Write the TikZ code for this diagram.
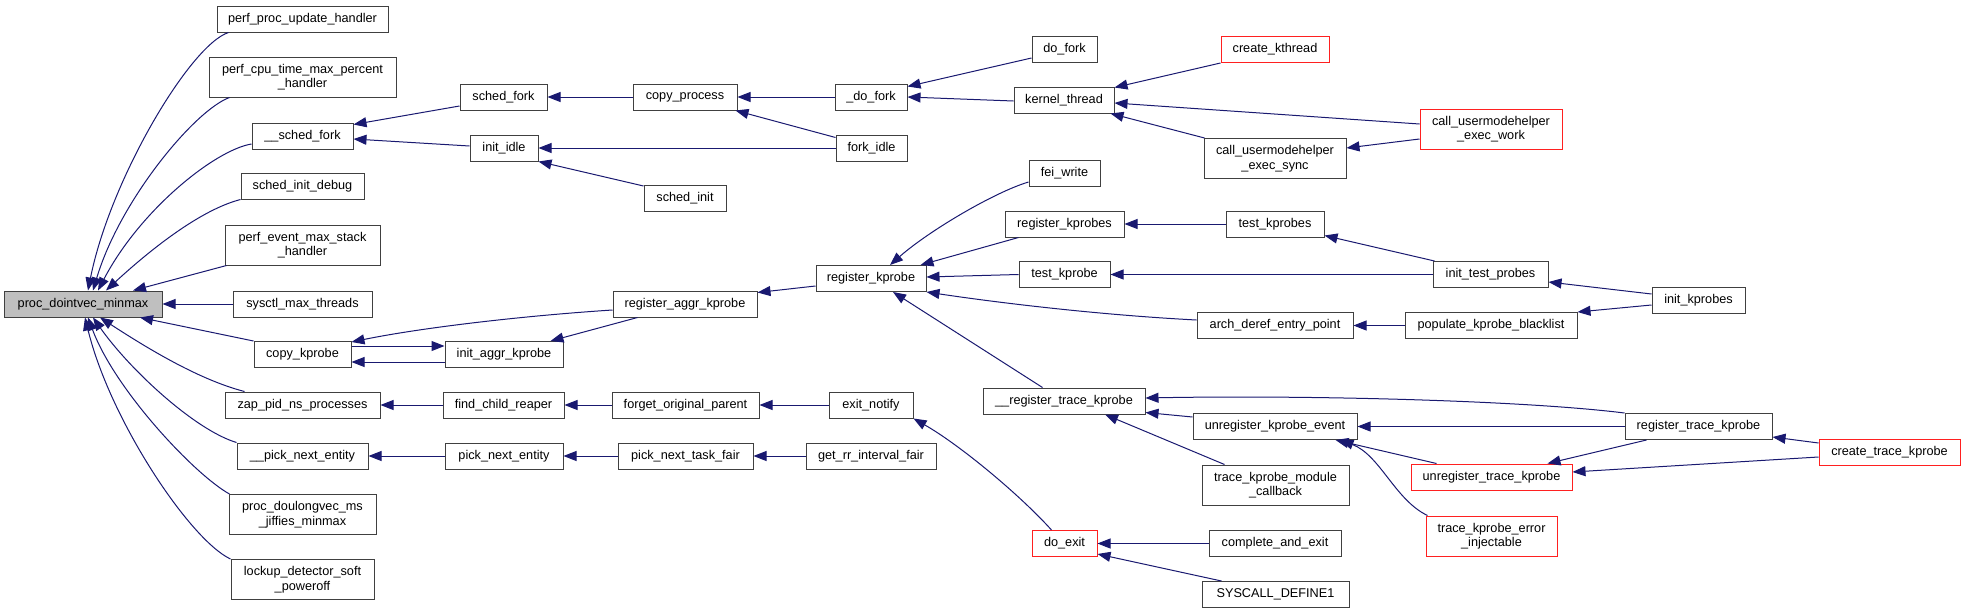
\documentclass[tikz,border=0pt]{standalone}
\usepackage{fontspec}
\setmainfont{Liberation Sans}
\usetikzlibrary{arrows.meta}
\definecolor{edgec}{HTML}{191970}
\definecolor{boxc}{HTML}{404040}
\definecolor{rootc}{HTML}{BFBFBF}
\definecolor{redc}{HTML}{FF2020}
\begin{document}
\begin{tikzpicture}[x=1pt,y=-1pt,
  fn/.style={draw=boxc, line width=1pt, rectangle, inner sep=0pt, font=\fontsize{12.7}{14.5}\selectfont, align=center, minimum height=26pt},
  dbl/.style={minimum height=40pt},
  rd/.style={fn, draw=redc},
  e/.style={draw=edgec, line width=1pt, -{Triangle[length=13pt,width=10pt]}}]
\useasboundingbox (0,0) rectangle (1965,613);
% column 0
\node[fn, fill=rootc, minimum width=158pt] (proc) at (83,304) {proc\_dointvec\_minmax};
% column 1
\node[fn, minimum width=171pt] (pupd) at (302.5,19) {perf\_proc\_update\_handler};
\node[fn, dbl, minimum width=187pt] (pcpu) at (302.5,77) {perf\_cpu\_time\_max\_percent\\\_handler};
\node[fn, minimum width=101pt] (sfork_) at (302.5,136) {\_\_sched\_fork};
\node[fn, minimum width=123pt] (sid) at (302.5,186) {sched\_init\_debug};
\node[fn, dbl, minimum width=155pt] (pevt) at (302.5,245) {perf\_event\_max\_stack\\\_handler};
\node[fn, minimum width=139pt] (smt) at (302.5,304) {sysctl\_max\_threads};
\node[fn, minimum width=97pt] (ckp) at (302.5,354.5) {copy\_kprobe};
\node[fn, minimum width=155pt] (zap) at (302.5,405) {zap\_pid\_ns\_processes};
\node[fn, minimum width=131pt] (pne_) at (302.5,456) {\_\_pick\_next\_entity};
\node[fn, dbl, minimum width=147pt] (pdl) at (302.5,514.5) {proc\_doulongvec\_ms\\\_jiffies\_minmax};
\node[fn, dbl, minimum width=143pt] (lds) at (302.5,579.5) {lockup\_detector\_soft\\\_poweroff};
% column 2
\node[fn, minimum width=87pt] (schedfork) at (503.5,97) {sched\_fork};
\node[fn, minimum width=68pt] (initidle) at (504,148) {init\_idle};
\node[fn, minimum width=118pt] (iak) at (504,354.5) {init\_aggr\_kprobe};
\node[fn, minimum width=121pt] (fcr) at (503.5,405) {find\_child\_reaper};
\node[fn, minimum width=118pt] (pne) at (504,456) {pick\_next\_entity};
% column 3
\node[fn, minimum width=104pt] (cproc) at (685,97) {copy\_process};
\node[fn, minimum width=82pt] (sinit) at (685,198.5) {sched\_init};
\node[fn, minimum width=144pt] (rak) at (685,304) {register\_aggr\_kprobe};
\node[fn, minimum width=147pt] (fop) at (685.5,405) {forget\_original\_parent};
\node[fn, minimum width=135pt] (pntf) at (685.5,456) {pick\_next\_task\_fair};
% column 4
\node[fn, minimum width=72pt] (dofork_) at (871,97) {\_do\_fork};
\node[fn, minimum width=71pt] (forkidle) at (871.5,148) {fork\_idle};
\node[fn, minimum width=110pt] (regkp) at (871,278.5) {register\_kprobe};
\node[fn, minimum width=84pt] (exitn) at (871,405) {exit\_notify};
\node[fn, minimum width=130pt] (grr) at (871,456) {get\_rr\_interval\_fair};
% column 5
\node[fn, minimum width=65pt] (dofork) at (1064.5,49.5) {do\_fork};
\node[fn, minimum width=100pt] (kthread) at (1064,100) {kernel\_thread};
\node[fn, minimum width=71pt] (feiw) at (1064.5,173.5) {fei\_write};
\node[fn, minimum width=119pt] (regkps) at (1064.5,224) {register\_kprobes};
\node[fn, minimum width=91pt] (testkp) at (1064.5,274.5) {test\_kprobe};
\node[fn, minimum width=162pt] (rtk_) at (1064,401) {\_\_register\_trace\_kprobe};
\node[rd, minimum width=65pt] (doexit) at (1064.5,543.5) {do\_exit};
% column 6
\node[rd, minimum width=108pt] (ckth) at (1275,49.5) {create\_kthread};
\node[fn, dbl, minimum width=142pt] (cues) at (1275,158.5) {call\_usermodehelper\\\_exec\_sync};
\node[fn, minimum width=98pt] (testkps) at (1275,224) {test\_kprobes};
\node[fn, minimum width=156pt] (ade) at (1275,325.5) {arch\_deref\_entry\_point};
\node[fn, minimum width=164pt] (uke) at (1275,426.5) {unregister\_kprobe\_event};
\node[fn, dbl, minimum width=147pt] (tkmc) at (1275.5,485) {trace\_kprobe\_module\\\_callback};
\node[fn, minimum width=132pt] (cae) at (1275,543.5) {complete\_and\_exit};
\node[fn, minimum width=147pt] (sysd) at (1275.5,594.5) {SYSCALL\_DEFINE1};
% column 7
\node[rd, dbl, minimum width=142pt] (cuew) at (1491,129) {call\_usermodehelper\\\_exec\_work};
\node[fn, minimum width=115pt] (itp) at (1490.5,274.5) {init\_test\_probes};
\node[fn, minimum width=172pt] (pkb) at (1491,325.5) {populate\_kprobe\_blacklist};
\node[rd, minimum width=161pt] (utk) at (1491.5,477) {unregister\_trace\_kprobe};
\node[rd, dbl, minimum width=131pt] (tkei) at (1491.5,536) {trace\_kprobe\_error\\\_injectable};
% column 8
\node[fn, minimum width=93pt] (initkp) at (1698.5,300) {init\_kprobes};
\node[fn, minimum width=147pt] (rtk) at (1698.5,426.5) {register\_trace\_kprobe};
% column 9
\node[rd, minimum width=141pt] (ctk) at (1889.5,452) {create\_trace\_kprobe};

% edges into proc_dointvec_minmax
\draw[e] ([xshift=12pt]pupd.south west) .. controls (190,45) and (110,180) .. ([xshift=5pt]proc.north);
\draw[e] ([xshift=21pt]pcpu.south west) .. controls (195,110) and (120,200) .. ([xshift=10pt]proc.north);
\draw[e] ([yshift=-8pt]sfork_.west) .. controls (215,150) and (140,210) .. ([xshift=15pt]proc.north);
\draw[e] (sid.south west) .. controls (200,210) and (150,250) .. ([xshift=23pt]proc.north);
\draw[e] ([xshift=2pt]pevt.south west) -- ([xshift=50pt]proc.north);
\draw[e] (smt.west) -- (proc.east);
\draw[e] (ckp.north west) -- ([xshift=57pt]proc.south);
\draw[e] ([xshift=20pt]zap.north west) .. controls (200,380) and (150,350) .. ([xshift=17pt]proc.south);
\draw[e] (pne_.north west) .. controls (195,430) and (130,370) .. ([xshift=10pt]proc.south);
\draw[e] ([xshift=1pt]pdl.north west) .. controls (195,475) and (115,390) .. ([xshift=5pt]proc.south);
\draw[e] (lds.north west) .. controls (190,540) and (110,420) .. ([xshift=2pt]proc.south);

% fork area
\draw[e] ([yshift=-9pt]schedfork.west) -- ([yshift=-2pt]sfork_.north east);
\draw[e] ([yshift=2pt]initidle.west) -- ([yshift=-3pt]sfork_.east);
\draw[e] (cproc.west) -- (schedfork.east);
\draw[e] (dofork_.west) -- (cproc.east);
\draw[e] ([yshift=-3pt]forkidle.north west) -- ([xshift=-2pt]cproc.south east);
\draw[e] (forkidle.west) -- (initidle.east);
\draw[e] ([yshift=-1pt]sinit.north west) -- (initidle.south east);
\draw[e] ([yshift=-8.5pt]dofork.west) -- ([yshift=-3pt]dofork_.north east);
\draw[e] ([yshift=-1pt]kthread.west) -- (dofork_.east);
\draw[e] (ckth.south west) -- ([yshift=-1pt]kthread.north east);
\draw[e] ([yshift=5pt]cuew.west) -- ([yshift=-3pt]kthread.east);
\draw[e] ([xshift=1pt]cues.north west) -- ([xshift=-4pt]kthread.south east);
\draw[e] ([yshift=-10pt]cuew.west) -- ([yshift=10.5pt]cues.east);

% kprobe area
\draw[e] ([yshift=-6pt]rak.west) .. controls (520,316) and (420,328) .. ([yshift=-1pt]ckp.north east);
\draw[e] ([xshift=25pt]rak.south west) -- ([xshift=-13pt]iak.north east);
\draw[e] ([yshift=8.5pt]ckp.east) -- ([yshift=8.5pt]iak.west);
\draw[e] ([yshift=-7.5pt]iak.west) -- ([yshift=-7.5pt]ckp.east);
\draw[e] ([yshift=-7.5pt]regkp.west) -- ([yshift=-2pt]rak.north east);
\draw[e] ([yshift=-8.5pt]feiw.west) .. controls (995,192) and (930,230) .. ([xshift=19pt]regkp.north);
\draw[e] ([xshift=14pt]regkps.south west) -- ([xshift=-6pt]regkp.north east);
\draw[e] (testkp.west) -- ([yshift=1.5pt]regkp.east);
\draw[e] ([yshift=5.5pt]ade.west) .. controls (1100,315) and (1000,303) .. (regkp.south east);
\draw[e] ([xshift=60pt]rtk_.north west) -- ([xshift=22pt]regkp.south);
\draw[e] (testkps.west) -- (regkps.east);
\draw[e] (itp.west) -- (testkp.east);
\draw[e] ([xshift=2pt]itp.north west) -- ([yshift=2pt]testkps.south east);
\draw[e] ([yshift=6pt]initkp.west) -- ([yshift=-7.5pt]itp.east);
\draw[e] ([yshift=-5pt]initkp.west) -- (pkb.north east);
\draw[e] (pkb.west) -- (ade.east);

% trace kprobe area
\draw[e] (rtk.north west) .. controls (1520,400) and (1300,395) .. ([yshift=3pt]rtk_.east);
\draw[e] ([yshift=9.5pt]uke.west) -- ([yshift=2pt]rtk_.south east);
\draw[e] ([xshift=23pt]tkmc.north west) -- ([xshift=41pt]rtk_.south);
\draw[e] (rtk.west) -- (uke.east);
\draw[e] ([xshift=26pt]utk.north west) -- ([xshift=-22pt]uke.south east);
\draw[e] ([xshift=2pt]tkei.north west) .. controls (1395,500) and (1380,455) .. ([xshift=-17pt]uke.south east);
\draw[e] ([xshift=22pt]rtk.south west) -- ([xshift=-25pt]utk.north east);
\draw[e] ([yshift=9pt]ctk.west) -- ([yshift=-10.5pt]rtk.east);
\draw[e] ([yshift=-5pt]ctk.west) -- ([yshift=5pt]utk.east);

% exit area
\draw[e] ([xshift=20pt]doexit.north west) .. controls (1020,495) and (960,445) .. (exitn.south east);
\draw[e] (exitn.west) -- (fop.east);
\draw[e] (fop.west) -- (fcr.east);
\draw[e] (fcr.west) -- (zap.east);
\draw[e] (grr.west) -- (pntf.east);
\draw[e] (pntf.west) -- (pne.east);
\draw[e] (pne.west) -- (pne_.east);
\draw[e] (cae.west) -- (doexit.east);
\draw[e] ([xshift=20pt]sysd.north west) -- ([yshift=3pt]doexit.south east);
\end{tikzpicture}
\end{document}
